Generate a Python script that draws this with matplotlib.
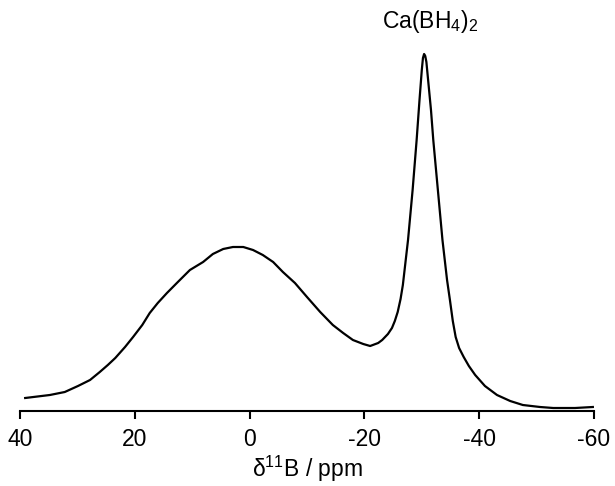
import matplotlib
matplotlib.use('Agg')
import matplotlib.pyplot as plt

plt.rcParams['font.family'] = ['Liberation Sans', 'DejaVu Sans']
plt.rcParams['mathtext.fontset'] = 'custom'
plt.rcParams['mathtext.rm'] = 'Liberation Sans'

# 11B MAS NMR spectrum (arbitrary intensity)
shift_ppm = [39.1, 34.8, 32.2, 29.9, 27.8, 26.1, 24.7, 23.4, 21.7, 20.3,
             18.7, 17.4, 16.0, 14.4, 12.5, 10.4, 8.1, 6.4, 4.6, 2.9,
             1.1, -0.6, -2.3, -4.1, -5.8, -7.9, -10.0, -12.3, -14.5, -16.3,
             -18.0, -19.8, -21.0, -22.4, -23.1, -24.1, -24.8, -25.3, -25.8, -26.3,
             -26.7, -27.1, -27.6, -28.4, -29.1, -29.6, -30.0, -30.2, -30.4, -30.6,
             -30.8, -31.1, -31.6, -32.0, -32.8, -33.6, -34.4, -34.9, -35.4, -35.9,
             -36.5, -37.3, -38.2, -39.3, -41.0, -43.1, -45.4, -47.6, -50.6, -52.9,
             -56.7, -59.8]
intensity = [13, 16, 19, 25, 31, 39, 46, 53, 64, 74,
             86, 98, 108, 118, 129, 141, 149, 157, 162, 164,
             164, 161, 156, 149, 139, 128, 114, 99, 86, 78,
             71, 67, 65, 68, 71, 77, 83, 90, 99, 112,
             126, 146, 171, 221, 271, 311, 341, 353, 357, 355,
             349, 331, 301, 271, 221, 171, 131, 111, 90, 74,
             63, 54, 45, 36, 25, 16, 10, 6, 4, 3,
             3, 4]

xticks = [40, 20, 0, -20, -40, -60]
peak_label = 'Ca(BH$_\\mathregular{4}$)$_\\mathregular{2}$'
peak_pos = (-31.4, 383)

fig = plt.figure(figsize=(6.15, 4.86), dpi=100)
ax = fig.add_axes([20 / 615, 75 / 486, 574 / 615, 371 / 486])

ax.plot(shift_ppm, intensity, color='black', lw=1.6)

ax.set_xlim(40, -60)
ax.set_ylim(0, 371)
ax.set_xticks(xticks)
ax.set_xticklabels([str(t) for t in xticks])
ax.set_yticks([])
for s in ['top', 'left', 'right']:
    ax.spines[s].set_visible(False)
ax.spines['bottom'].set_linewidth(1.5)
ax.tick_params(axis='x', direction='out', length=6, width=1.5, pad=6, labelsize=16.5)
ax.set_xlabel('\u03b4$^\\mathregular{11}$B / ppm', fontsize=16.5, labelpad=2)

ax.text(peak_pos[0], peak_pos[1], peak_label, ha='center', va='baseline',
        fontsize=16.5, clip_on=False)

fig.savefig('out.png', dpi=100)
